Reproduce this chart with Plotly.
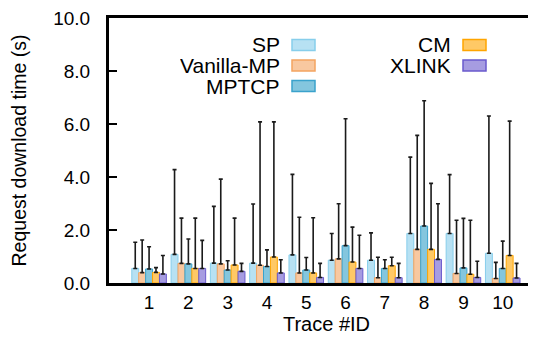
import plotly.graph_objects as go

traces = ["1", "2", "3", "4", "5", "6", "7", "8", "9", "10"]
series = ["SP", "Vanilla-MP", "MPTCP", "CM", "XLINK"]

sp_mean = [0.55, 1.08, 0.75, 0.75, 1.06, 0.86, 0.86, 1.87, 1.87, 1.12]
vmp_mean = [0.39, 0.74, 0.72, 0.67, 0.38, 0.91, 0.20, 1.27, 0.36, 0.17]
mptcp_mean = [0.53, 0.72, 0.49, 0.62, 0.49, 1.41, 0.55, 2.15, 0.57, 0.55]
cm_mean = [0.40, 0.55, 0.68, 0.98, 0.38, 0.79, 0.65, 1.27, 0.33, 1.04]
xlink_mean = [0.34, 0.55, 0.44, 0.38, 0.21, 0.55, 0.20, 0.89, 0.21, 0.19]

sp_high = [1.54, 4.28, 2.89, 2.98, 4.10, 1.87, 1.89, 4.75, 4.09, 6.30]
vmp_high = [1.62, 2.45, 3.92, 6.08, 2.48, 2.99, 0.97, 5.57, 2.37, 0.78]
mptcp_high = [1.37, 1.66, 0.84, 1.25, 0.96, 6.20, 0.88, 6.88, 2.44, 1.58]
cm_high = [0.58, 2.45, 2.45, 6.08, 2.46, 2.11, 0.97, 3.76, 2.37, 6.11]
xlink_high = [1.04, 1.61, 0.74, 0.88, 0.74, 1.80, 0.74, 2.99, 0.82, 0.74]

y_ticks = [0, 2, 4, 6, 8, 10]

means = [sp_mean, vmp_mean, mptcp_mean, cm_mean, xlink_mean]
highs = [sp_high, vmp_high, mptcp_high, cm_high, xlink_high]
fills = ["#b7e1f3", "#f8c8a0", "#84c6de", "#ffc966", "#a69ce1"]
borders = ["#87ceeb", "#f4a460", "#3aa2cc", "#ffa500", "#6a5acd"]

FONT = "Liberation Sans, Arial, sans-serif"
xpos = list(range(1, len(traces) + 1))

fig = go.Figure()
for name, m, h, fc, bc in zip(series, means, highs, fills, borders):
    fig.add_trace(go.Bar(
        x=xpos, y=m, name=name,
        marker=dict(color=fc, line=dict(color=bc, width=1)),
        error_y=dict(type="data", symmetric=False,
                     array=[hi - mv for hi, mv in zip(h, m)],
                     arrayminus=[0] * len(m),
                     color="#1a1a1a", thickness=1.6, width=2),
        showlegend=False,
    ))

# plot-area pixel geometry
L, T, B, W, H = 101, 10, 64, 536, 339
pw = W - L
ph = H - T - B

def px(x):
    return (x - L) / pw

def py(y):
    return (H - B - y) / ph

# manual gnuplot-style legend (text right-aligned, swatch on the right)
legend_pos = [(271, 284, 37), (271, 284, 57.5), (271, 284, 78), (442, 455, 37), (442, 455, 57.5)]
for name, fc, bc, (tx, sx, ry) in zip(series, fills, borders, legend_pos):
    fig.add_annotation(x=px(tx), y=py(ry), xref="paper", yref="paper", text=name,
                       showarrow=False, xanchor="right", yanchor="middle",
                       xshift=2, height=19, valign="middle", borderpad=0,
                       font=dict(family=FONT, size=21, color="black"))
    fig.add_shape(type="rect", xref="paper", yref="paper",
                  x0=px(sx), x1=px(sx + 23), y0=py(ry + 5.5), y1=py(ry - 5.5),
                  fillcolor=fc, line=dict(color=bc, width=1.5))

fig.update_layout(
    width=W, height=H,
    margin=dict(l=L, r=0, t=T, b=B, autoexpand=False),
    paper_bgcolor="white", plot_bgcolor="white",
    barmode="group", bargap=0.12, bargroupgap=0,
    font=dict(family=FONT, size=19, color="black"),
    xaxis=dict(range=[-0.02, 11.05], tickvals=xpos, ticktext=traces,
               showline=True, linecolor="black", linewidth=3, mirror=True,
               ticks="", showgrid=False, zeroline=False, automargin=False,
               ticklabeloverflow="allow",
               tickfont=dict(size=19),
               title=dict(text="Trace #ID", font=dict(size=20), standoff=6)),
    yaxis=dict(range=[0, 10], tickvals=y_ticks,
               ticktext=[f"{v:.1f}" for v in y_ticks],
               showline=True, linecolor="black", linewidth=3, mirror=False,
               ticks="inside", ticklen=8, tickwidth=2, tickcolor="black",
               showgrid=False, zeroline=False, ticklabelstandoff=12,
               automargin=False, ticklabeloverflow="allow",
               tickfont=dict(size=19),
               title=dict(text="Request download time (s)", font=dict(size=19.5), standoff=30)),
)

fig.write_html("out.html")
